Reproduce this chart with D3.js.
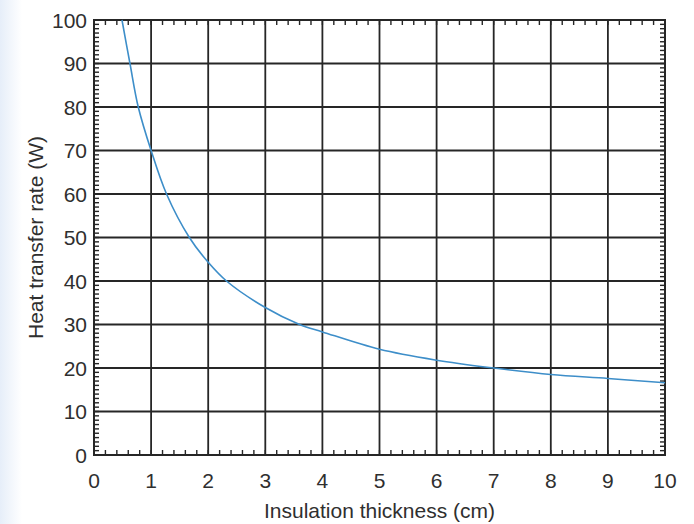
<!DOCTYPE html>
<html>
<head>
<meta charset="utf-8">
<script src="https://cdn.jsdelivr.net/npm/d3@7"></script>
<style>
  html, body { margin: 0; padding: 0; background: #fff; }
  svg { display: block; }
  text { font-family: "Liberation Sans", Arial, sans-serif; fill: #2f2f2f; }
</style>
</head>
<body>
<script>
// values
var thickness = [0.49, 0.63, 0.775, 1, 1.27, 1.67, 2, 2.32, 3, 3.6, 4, 5, 6, 7, 8, 9, 10];
var heatRate = [100, 90, 80, 70, 60, 50, 44.3, 40, 33.9, 30, 28.3, 24.3, 21.8, 20, 18.5, 17.6, 16.6];
var xTicks = [0, 1, 2, 3, 4, 5, 6, 7, 8, 9, 10];
var yTicks = [0, 10, 20, 30, 40, 50, 60, 70, 80, 90, 100];

var points = thickness.map(function (d, i) { return { x: d, y: heatRate[i] }; });

var width = 694;
var height = 524;
var margin = { top: 20, right: 29, bottom: 69, left: 94 };
var w = width - margin.left - margin.right;
var h = height - margin.top - margin.bottom;

var svg = d3.select('body').append('svg')
  .attr('width', width)
  .attr('height', height);

// faint blue strip at the left edge of the scan
var grad = svg.append('defs').append('linearGradient')
  .attr('id', 'edge');
grad.append('stop').attr('offset', '0%').attr('stop-color', '#e6eef9');
grad.append('stop').attr('offset', '100%').attr('stop-color', '#ffffff');
svg.append('rect')
  .attr('width', 22)
  .attr('height', height)
  .attr('fill', 'url(#edge)');

var x = d3.scaleLinear().domain([0, 10]).range([0, w]);
var y = d3.scaleLinear().domain([0, 100]).range([h, 0]);

var g = svg.append('g')
  .attr('transform', 'translate(' + margin.left + ',' + margin.top + ')');

var ink = '#262626';

// minor ticks, pointing inward on all four sides
var xMinor = d3.range(0, 10.001, 0.2);
var yMinor = d3.range(0, 100.001, 1);
var tl = 5;

g.append('g').selectAll('line')
  .data(xMinor)
  .enter()
  .append('line')
    .attr('x1', function (d) { return x(d); })
    .attr('x2', function (d) { return x(d); })
    .attr('y1', h)
    .attr('y2', h - tl)
    .attr('stroke', ink)
    .attr('stroke-width', 1.4);

g.append('g').selectAll('line')
  .data(xMinor)
  .enter()
  .append('line')
    .attr('x1', function (d) { return x(d); })
    .attr('x2', function (d) { return x(d); })
    .attr('y1', 0)
    .attr('y2', tl)
    .attr('stroke', ink)
    .attr('stroke-width', 1.4);

g.append('g').selectAll('line')
  .data(yMinor)
  .enter()
  .append('line')
    .attr('y1', function (d) { return y(d); })
    .attr('y2', function (d) { return y(d); })
    .attr('x1', 0)
    .attr('x2', tl)
    .attr('stroke', ink)
    .attr('stroke-width', 1.4);

g.append('g').selectAll('line')
  .data(yMinor)
  .enter()
  .append('line')
    .attr('y1', function (d) { return y(d); })
    .attr('y2', function (d) { return y(d); })
    .attr('x1', w)
    .attr('x2', w - tl)
    .attr('stroke', ink)
    .attr('stroke-width', 1.4);

// grid lines at the major ticks
g.append('g').selectAll('line')
  .data(xTicks)
  .enter()
  .append('line')
    .attr('x1', function (d) { return x(d); })
    .attr('x2', function (d) { return x(d); })
    .attr('y1', 0)
    .attr('y2', h)
    .attr('stroke', ink)
    .attr('stroke-width', 1.8);

g.append('g').selectAll('line')
  .data(yTicks)
  .enter()
  .append('line')
    .attr('y1', function (d) { return y(d); })
    .attr('y2', function (d) { return y(d); })
    .attr('x1', 0)
    .attr('x2', w)
    .attr('stroke', ink)
    .attr('stroke-width', 1.8);

// frame
g.append('rect')
  .attr('width', w)
  .attr('height', h)
  .attr('fill', 'none')
  .attr('stroke', ink)
  .attr('stroke-width', 2);

// the curve
var line = d3.line()
  .x(function (d) { return x(d.x); })
  .y(function (d) { return y(d.y); })
  .curve(d3.curveCatmullRom.alpha(0.5));

g.append('path')
  .datum(points)
  .attr('d', line)
  .attr('fill', 'none')
  .attr('stroke', '#3d8ec9')
  .attr('stroke-width', 1.6);

// tick labels
g.append('g').selectAll('text')
  .data(xTicks)
  .enter()
  .append('text')
    .attr('x', function (d) { return x(d); })
    .attr('y', h + 33)
    .attr('text-anchor', 'middle')
    .style('font-size', '21px')
    .text(function (d) { return d; });

g.append('g').selectAll('text')
  .data(yTicks)
  .enter()
  .append('text')
    .attr('x', -7)
    .attr('y', function (d) { return y(d); })
    .attr('dy', '0.36em')
    .attr('text-anchor', 'end')
    .style('font-size', '21px')
    .text(function (d) { return d; });

// axis titles
g.append('text')
  .attr('x', w / 2)
  .attr('y', h + 63)
  .attr('text-anchor', 'middle')
  .style('font-size', '21px')
  .text('Insulation thickness (cm)');

g.append('text')
  .attr('transform', 'translate(' + (-51) + ',' + (h / 2) + ') rotate(-90)')
  .attr('text-anchor', 'middle')
  .style('font-size', '21px')
  .text('Heat transfer rate (W)');
</script>
</body>
</html>
